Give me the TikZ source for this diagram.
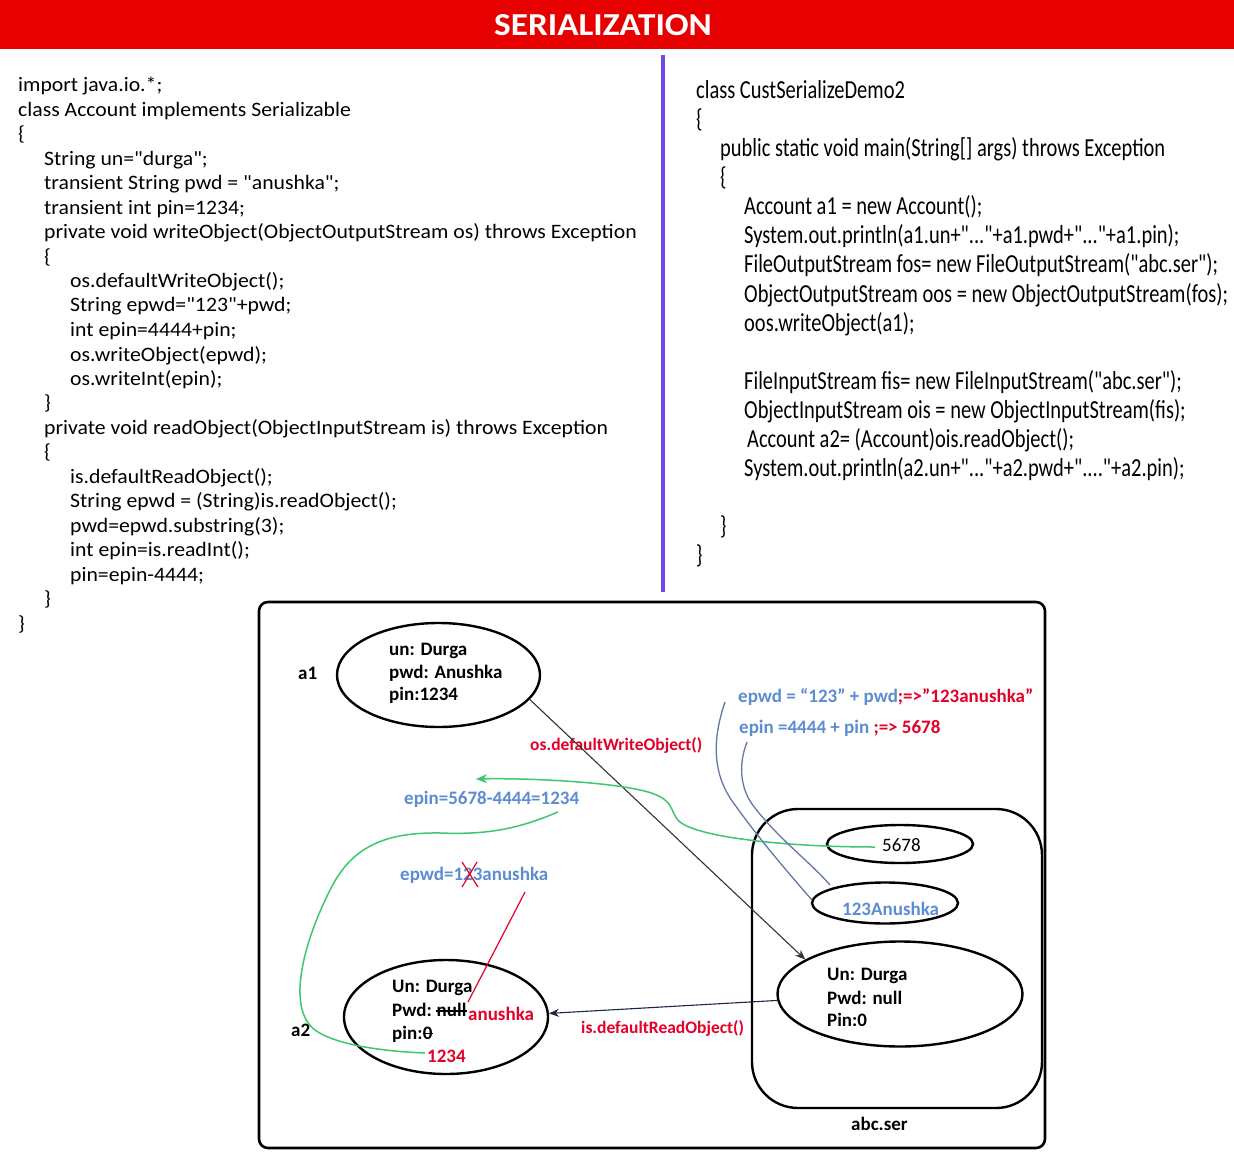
\documentclass[tikz,border=0pt]{standalone}
\usepackage{fontspec}
\setmainfont{Carlito}
\newfontfamily\condfont[FakeStretch=0.787]{Carlito}
\newfontfamily\codefont[FakeStretch=1.06]{Carlito}
\newfontfamily\titlefont[FakeStretch=1.1]{Carlito}
\usetikzlibrary{shapes.geometric,arrows.meta}
\definecolor{titlered}{RGB}{230,0,0}
\definecolor{purp}{RGB}{115,70,235}
\definecolor{lblue}{RGB}{92,140,210}
\definecolor{tred}{RGB}{228,0,40}
\definecolor{lgreen}{RGB}{60,200,110}
\definecolor{slate}{RGB}{100,120,165}
\definecolor{navy}{RGB}{30,40,70}
\begin{document}
\begin{tikzpicture}[x=1pt,y=-1pt,
 lc/.style={anchor=base west,inner sep=0,font=\codefont\fontsize{20.5}{24}\selectfont},
 rc/.style={anchor=base west,inner sep=0,font=\condfont\fontsize{26}{30}\selectfont},
 dt/.style={anchor=base west,inner sep=0,font=\bfseries\fontsize{19}{22}\selectfont},
 sl/.style={anchor=base west,inner sep=0,font=\bfseries\fontsize{17.5}{20}\selectfont,text=tred},
 ell/.style={ellipse,draw,line width=2.4pt,inner sep=0},
 blu/.style={text=lblue},
 rd/.style={text=tred},
]
\useasboundingbox (0,0) rectangle (1234,1158);
\fill[white] (0,0) rectangle (1234,1158);
% title
\fill[titlered] (0,0) rectangle (1234,49);
\node[inner sep=0,text=white,font=\titlefont\bfseries\fontsize{32}{35}\selectfont] (title) at (603,25) {SERIALIZATION};
% divider
\draw[purp,line width=4pt] (663,55) -- (663,592);
% left code
\node[lc] (l0) at (18,92) {import java.io.*;};
\node[lc] (l1) at (18,116.5) {class Account implements Serializable};
\node[lc] (l2) at (18,141) {\{};
\node[lc] (l3) at (44,165.4) {String un="durga";};
\node[lc] (l4) at (44,189.8) {transient String pwd = "anushka";};
\node[lc] (l5) at (44,214.3) {transient int pin=1234;};
\node[lc] (l6) at (44,238.7) {private void writeObject(ObjectOutputStream os) throws Exception};
\node[lc] (l7) at (44,263.2) {\{};
\node[lc] (l8) at (70,287.6) {os.defaultWriteObject();};
\node[lc] (l9) at (70,312) {String epwd="123"+pwd;};
\node[lc] (l10) at (70,336.5) {int epin=4444+pin;};
\node[lc] (l11) at (70,361) {os.writeObject(epwd);};
\node[lc] (l12) at (70,385.4) {os.writeInt(epin);};
\node[lc] (l13) at (44,409.9) {\}};
\node[lc] (l14) at (44,434.3) {private void readObject(ObjectInputStream is) throws Exception};
\node[lc] (l15) at (44,458.8) {\{};
\node[lc] (l16) at (70,483.2) {is.defaultReadObject();};
\node[lc] (l17) at (70,507.7) {String epwd = (String)is.readObject();};
\node[lc] (l18) at (70,532.1) {pwd=epwd.substring(3);};
\node[lc] (l19) at (70,556.6) {int epin=is.readInt();};
\node[lc] (l20) at (70,581) {pin=epin-4444;};
\node[lc] (l21) at (44,605.5) {\}};
\node[lc] (l22) at (18,630) {\}};
% right code
\node[rc] (r0) at (696,99) {class CustSerializeDemo2};
\node[rc] (r1) at (696,128) {\{};
\node[rc] (r2) at (720,157) {public static void main(String[] args) throws Exception};
\node[rc] (r3) at (720,186) {\{};
\node[rc] (r4) at (744,215) {Account a1 = new Account();};
\node[rc] (r5) at (744,244) {System.out.println(a1.un+"..."+a1.pwd+"..."+a1.pin);};
\node[rc] (r6) at (744,273) {FileOutputStream fos= new FileOutputStream("abc.ser");};
\node[rc] (r7) at (744,302) {ObjectOutputStream oos = new ObjectOutputStream(fos);};
\node[rc] (r8) at (744,331) {oos.writeObject(a1);};
\node[rc] (r9) at (744,389) {FileInputStream fis= new FileInputStream("abc.ser");};
\node[rc] (r10) at (744,418) {ObjectInputStream ois = new ObjectInputStream(fis);};
\node[rc] (r11) at (747,447) {Account a2= (Account)ois.readObject();};
\node[rc] (r12) at (744,476) {System.out.println(a2.un+"..."+a2.pwd+"...."+a2.pin);};
\node[rc] (r13) at (720,534) {\}};
\node[rc] (r14) at (696,563) {\}};
% diagram frame
\draw[line width=2.6pt,rounded corners=9pt] (259,602) rectangle (1045,1148);
% abc.ser container
\draw[line width=2.4pt,rounded corners=46pt] (752,809) rectangle (1042,1108);
\node[dt] (abc) at (851,1130) {abc.ser};
% ellipses
\node[ell,minimum width=203pt,minimum height=104pt] (a1) at (438.5,675) {};
\node[ell,minimum width=146pt,minimum height=38pt] (e5678) at (900,844) {};
\node[ell,minimum width=146pt,minimum height=41pt] (e123) at (885,903) {};
\node[ell,minimum width=245pt,minimum height=105pt] (ser) at (900,994) {};
\node[ell,minimum width=204pt,minimum height=114pt] (a2) at (446,1017) {};
% a1 text
\node[dt] (a1lab) at (298,679) {a1};
\node[dt] (a1t1) at (389,655) {un: Durga};
\node[dt] (a1t2) at (389,678.3) {pwd: Anushka};
\node[dt] (a1t3) at (389,700) {pin:1234};
% file text
\node[anchor=base west,inner sep=0,font=\fontsize{19}{22}\selectfont] (t5678) at (882,851) {5678};
\node[dt,blu] (t123) at (842,915) {123Anushka};
\node[dt] (s1) at (827,980) {Un: Durga};
\node[dt] (s2) at (827,1004) {Pwd: null};
\node[dt] (s3) at (827,1026) {Pin:0};
% a2 text
\node[dt] (a2lab) at (291,1036.7) {a2};
\node[dt] (b1) at (392,992.7) {Un: Durga};
\node[dt] (b2) at (392,1016) {Pwd:};
\node[dt,anchor=base west] (bnull) at ([xshift=4.5pt]b2.base east) {null};
\node[dt,rd] (b2r) at (468,1020.7) {anushka};
\node[dt] (b3) at (392,1039) {pin:};
\node[dt,anchor=base west] (bzero) at (b3.base east) {0};
\node[dt,rd] (b4) at (427,1062.7) {1234};
\draw[line width=1.3pt] ([yshift=5pt]bnull.base west) -- ([yshift=5pt]bnull.base east);
\draw[line width=1.3pt] ([yshift=5.5pt]bzero.base west) -- ([yshift=5.5pt]bzero.base east);
% labels
\node[sl] (dwo) at (530,750) {os.defaultWriteObject()};
\node[sl] (dro) at (581,1033) {is.defaultReadObject()};
\node[dt] (eq1) at (738,702.3) {\textcolor{lblue}{epwd = “123” + pwd}\textcolor{tred}{;=>”123anushka”}};
\node[dt] (eq2) at (739,733.3) {\textcolor{lblue}{epin =4444 + pin }\textcolor{tred}{;=> 5678}};
\node[dt,blu] (eq3) at (404,804) {epin=5678-4444=1234};
\node[dt,blu] (eq4) at (400,880) {epwd=123anushka};
% red X
\draw[tred,line width=1.2pt] (462,862) -- (478,887) (477,862) -- (462,887);
% connectors
\draw[line width=1.1pt,black!80,-{Stealth[length=10pt,width=8pt]}] (a1.-15) -- (ser.160);
\draw[line width=1.1pt,navy,-{Stealth[length=10pt,width=8pt]}] (ser.183) -- (a2.2);
\coordinate (rs) at (525,892);
\coordinate (re) at (468,1002);
\draw[tred,line width=1.2pt] (rs) -- (re);
\coordinate (g1s) at (875,847);
\coordinate (g1e) at (476,779);
\draw[lgreen,line width=1.5pt,-{Stealth[length=11pt,width=9pt]}] (g1s) .. controls (790,847) and (700,838) .. (680,822)
  .. controls (668,812) and (678,798) .. (640,790)
  .. controls (600,781) and (520,778) .. (g1e);
\coordinate (g2s) at (558,812);
\coordinate (g2e) at (425,1053);
\draw[lgreen,line width=1.5pt] (g2s) .. controls (520,828) and (490,835) .. (440,833)
  .. controls (380,832) and (350,850) .. (330,890)
  .. controls (300,950) and (288,1010) .. (315,1030)
  .. controls (340,1048) and (400,1052) .. (g2e);
\coordinate (sas) at (725,702);
\coordinate (sae) at (812,900);
\draw[slate,line width=1.3pt] (sas) .. controls (712,740) and (712,775) .. (735,805)
  .. controls (760,840) and (790,875) .. (sae);
\coordinate (sbs) at (747,742);
\coordinate (sbe) at (830,885);
\draw[slate,line width=1.3pt] (sbs) .. controls (738,765) and (740,790) .. (755,808)
  .. controls (780,840) and (810,862) .. (sbe);
\end{tikzpicture}
\end{document}
